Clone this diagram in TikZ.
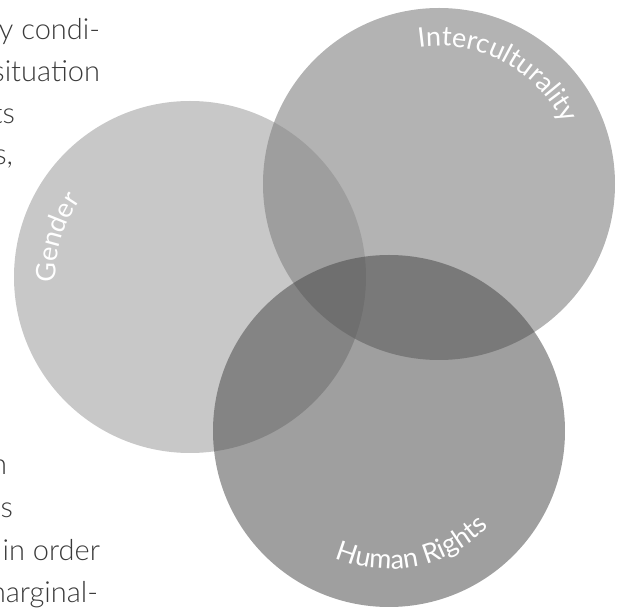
\documentclass[tikz,border=0pt]{standalone}
\usepackage{fontspec}
\setmainfont{Lato}
\newfontfamily\bodyfont{Lato Light}
\newfontfamily\labelfont{Lato}
\usetikzlibrary{decorations.text}
\definecolor{bodytext}{HTML}{3A3A3A}
\definecolor{gendercol}{HTML}{C8C8C8}
\colorlet{intercol}{black!47.6}
\colorlet{hrcol}{black!73.3}
\tikzset{
  bodyline/.style={anchor=base east, inner sep=0pt, outer sep=0pt, text=bodytext,
    font=\bodyfont\fontsize{29}{33}\selectfont},
  bigcircle/.style={circle, draw=none, inner sep=0pt, minimum size=352pt},
  arclabel/.style={decorate, decoration={text along path, text align=center,
    text={|\labelfont\fontsize{27}{31}\selectfont\color{white}|#1}}},
}
\begin{document}
\begin{tikzpicture}[x=1pt,y=1pt]
\useasboundingbox (0,0) rectangle (625,608);
\clip (0,0) rectangle (625,608);
% body text fragments
\node[bodyline] (t1) at (100,568) {y condi-};
\node[bodyline] (t2) at (100,526) {situation};
\node[bodyline] (t3) at (15,484) {ts};
\node[bodyline] (t4) at (13,443) {s,};
\node[bodyline] (t5) at (7,133) {n};
\node[bodyline] (t6) at (13,90) {us};
\node[bodyline] (t7) at (100,47) {in order};
\node[bodyline] (t8) at (98,5) {marginal-};
% circles
\node[bigcircle, fill=gendercol] (gender) at (190,331) {};
\node[bigcircle, fill=intercol, fill opacity=0.63] (inter) at (439,424) {};
\node[bigcircle, fill=hrcol, fill opacity=0.513] (hr) at (389,177) {};
% curved labels
\path[arclabel=Gender]
  (gender.center) ++(190:134) arc[start angle=190, end angle=137, radius=134];
\path[arclabel=Interculturality]
  (inter.center) ++(99:138) arc[start angle=99, end angle=25, radius=138];
\path[arclabel=Human Rights]
  (hr.center) ++(243:138) arc[start angle=243, end angle=320, radius=138];
\end{tikzpicture}
\end{document}
